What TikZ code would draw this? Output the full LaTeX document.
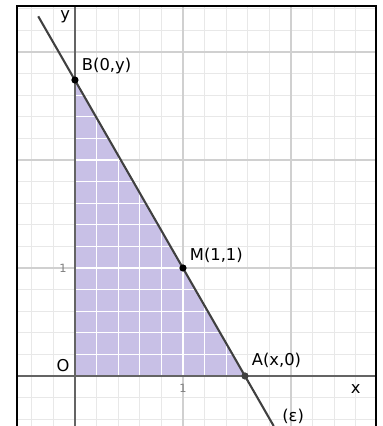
\documentclass[tikz,border=0pt]{standalone}
\usepackage{fontspec}
\setmainfont{DejaVu Sans}
\usepackage{tikz}
\usetikzlibrary{
    positioning
}
\definecolor{relleno}{RGB}{200,192,230}
\definecolor{rejillamenor}{RGB}{232,232,232}
\definecolor{rejillamayor}{RGB}{208,208,208}
\definecolor{ejes}{RGB}{100,100,100}
\definecolor{recta}{RGB}{64,64,64}
\tikzset{
    punto/.style={
        circle,
        fill=black,
        inner sep=0pt,
        minimum size=3.8pt
    },
    etiqueta/.style={
        font=\fontsize{8.6}{10}\selectfont,
        inner sep=1pt
    },
    marca/.style={
        font=\fontsize{6}{7}\selectfont,
        text=gray,
        inner sep=1pt
    }
}

\begin{document}
\begin{tikzpicture}[
    x=2cm,
    y=2cm
]
    \useasboundingbox (-0.694,-0.463) rectangle (2.843,3.481);

    % Vertices
    \coordinate (O)  at (0,0);
    \coordinate (a)  at (1.574,0);
    \coordinate (b)  at (0,2.74);
    \coordinate (e1) at (-0.34,3.33);
    \coordinate (e2) at (1.84,-0.463);
    \coordinate (xi) at (-0.537,0);
    \coordinate (xd) at (2.787,0);
    \coordinate (yi) at (0,-0.463);
    \coordinate (ys) at (0,3.426);

    % Rejilla
    \begin{scope}
        \clip (-0.537,-0.463) rectangle (2.787,3.426);
        \draw[rejillamenor, line width=0.55pt, step=0.2] (-0.6,-0.6) grid (2.8,3.6);
        \draw[rejillamayor, line width=0.7pt, step=1] (-0.6,-0.6) grid (2.8,3.6);
    \end{scope}

    % Triangulo
    \fill[relleno] (O) -- (a) -- (b) -- cycle;
    \begin{scope}
        \clip (O) -- (a) -- (b) -- cycle;
        \draw[white, line width=0.6pt, step=0.2] (0,0) grid (1.6,2.8);
    \end{scope}

    % Ejes
    \draw[ejes, line width=0.8pt] (xi) -- (xd);
    \draw[ejes, line width=0.8pt] (yi) -- (ys);

    % Recta
    \draw[recta, line width=1.1pt] (e1) -- (e2);

    % Marco
    \draw[black, line width=1pt] (-0.537,-0.463) -- (-0.537,3.426) -- (2.787,3.426) -- (2.787,-0.463);

    % Puntos
    \node[punto]             (B) at (b) {};
    \node[punto]             (M) at (1,1) {};
    \node[punto, fill=recta] (A) at (a) {};

    % Etiquetas
    \node[etiqueta, above right=0.3pt and 1pt of B] (lB) {B(0,y)};
    \node[etiqueta, above right=0.3pt and 1pt of M] (lM) {M(1,1)};
    \node[etiqueta, above right=1.5pt and 1pt of A] (lA) {A(x,0)};
    \node[etiqueta] (le) at (2.02,-0.37) {(ε)};
    \node[etiqueta] (lO) at (-0.11,0.093) {O};
    \node[etiqueta] (lx) at (2.60,-0.12) {x};
    \node[etiqueta] (ly) at (-0.09,3.33) {y};
    \node[marca]    (t1) at (1,-0.11) {1};
    \node[marca]    (t2) at (-0.11,1) {1};

\end{tikzpicture}
\end{document}
